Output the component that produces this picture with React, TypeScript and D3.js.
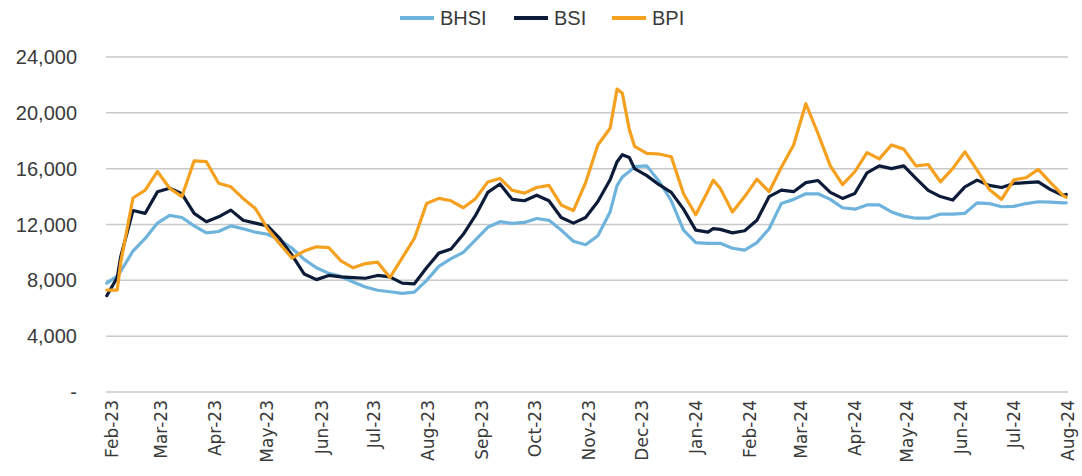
import React from "react";
import * as d3 from "d3";

const dates: string[] = [
  "2023-01-29","2023-02-04","2023-02-06","2023-02-13","2023-02-20","2023-02-27","2023-03-06","2023-03-13","2023-03-20","2023-03-27",
  "2023-04-03","2023-04-10","2023-04-17","2023-04-24","2023-05-01","2023-05-08","2023-05-15","2023-05-22","2023-05-29","2023-06-05",
  "2023-06-12","2023-06-19","2023-06-26","2023-07-03","2023-07-10","2023-07-17","2023-07-24","2023-07-31","2023-08-07","2023-08-14",
  "2023-08-21","2023-08-28","2023-09-04","2023-09-11","2023-09-18","2023-09-25","2023-10-02","2023-10-09","2023-10-16","2023-10-23",
  "2023-10-30","2023-11-06","2023-11-13","2023-11-17","2023-11-20","2023-11-24","2023-11-27","2023-12-04","2023-12-11","2023-12-18",
  "2023-12-25","2024-01-01","2024-01-08","2024-01-11","2024-01-15","2024-01-22","2024-01-29","2024-02-05","2024-02-12","2024-02-19",
  "2024-02-26","2024-03-04","2024-03-11","2024-03-18","2024-03-25","2024-04-01","2024-04-08","2024-04-15","2024-04-22","2024-04-29",
  "2024-05-06","2024-05-13","2024-05-20","2024-05-27","2024-06-03","2024-06-10","2024-06-17","2024-06-24","2024-07-01","2024-07-08",
  "2024-07-15","2024-07-22","2024-07-29","2024-07-31",
];

const bhsi: number[] = [
  7800, 8300, 8650, 10100, 11000, 12100, 12650, 12500, 11900, 11400,
  11500, 11900, 11700, 11450, 11300, 10900, 10300, 9500, 8900, 8500,
  8280, 7880, 7520, 7290, 7180, 7070, 7150, 8000, 9000, 9550,
  10000, 10900, 11800, 12200, 12080, 12150, 12430, 12300, 11600, 10800,
  10550, 11200, 12900, 14800, 15400, 15800, 16150, 16200, 15100, 13700,
  11600, 10700, 10650, 10650, 10650, 10300, 10170, 10700, 11700, 13510,
  13800, 14200, 14200, 13800, 13200, 13100, 13400, 13400, 12900, 12600,
  12450, 12450, 12750, 12750, 12800, 13550, 13500, 13270, 13300, 13500,
  13630, 13600, 13550, 13550,
];

const bsi: number[] = [
  6900, 8200, 9700, 13000, 12800, 14340, 14600, 14200, 12800, 12200,
  12550, 13030, 12300, 12100, 11900, 11000, 9800, 8450, 8050, 8350,
  8250, 8200, 8150, 8350, 8250, 7800, 7750, 8900, 9950, 10250,
  11300, 12650, 14300, 14900, 13800, 13700, 14100, 13700, 12500, 12100,
  12500, 13650, 15200, 16500, 17000, 16800, 16000, 15500, 14850, 14300,
  13100, 11600, 11450, 11700, 11650, 11400, 11550, 12300, 14000, 14460,
  14350, 15000, 15150, 14300, 13870, 14220, 15700, 16200, 16000, 16200,
  15300, 14450, 14000, 13750, 14700, 15180, 14800, 14650, 14940, 15000,
  15060, 14500, 14100, 14150,
];

const bpi: number[] = [
  7300, 7300, 9300, 13900, 14460, 15800, 14600, 14000, 16560, 16500,
  14960, 14700, 13870, 13150, 11700, 10600, 9600, 10100, 10400, 10350,
  9400, 8900, 9200, 9300, 8200, 9600, 11000, 13500, 13870, 13700,
  13200, 13850, 15050, 15300, 14450, 14250, 14650, 14800, 13400, 13000,
  15000, 17700, 18900, 21700, 21400, 18800, 17600, 17100, 17050, 16850,
  14200, 12700, 14400, 15180, 14600, 12900, 14000, 15250, 14350, 16100,
  17700, 20650, 18500, 16200, 14850, 15780, 17150, 16700, 17700, 17400,
  16200, 16300, 15050, 16000, 17200, 15900, 14500, 13800, 15200, 15350,
  15950, 15000, 14100, 13950,
];

const seriesNames: string[] = ["BHSI", "BSI", "BPI"];
const seriesColors: string[] = ["#6db3dc", "#0c1c38", "#f5a01e"];
const yTicks: number[] = [0, 4000, 8000, 12000, 16000, 20000, 24000];
const xTickLabels: string[] = [
  "Feb-23","Mar-23","Apr-23","May-23","Jun-23","Jul-23","Aug-23","Sep-23","Oct-23","Nov-23",
  "Dec-23","Jan-24","Feb-24","Mar-24","Apr-24","May-24","Jun-24","Jul-24","Aug-24",
];

export default function App() {
  const W = 1082, H = 476;
  const parse = d3.timeParse("%Y-%m-%d");
  const x = d3.scaleTime()
    .domain([new Date(2023, 1, 1), new Date(2024, 7, 1)])
    .range([112, 1068]);
  const y = d3.scaleLinear().domain([0, 24000]).range([392, 57]);
  const xs = dates.map((d) => parse(d) as Date);
  const allSeries = [bhsi, bsi, bpi];
  const line = d3.line<number>()
    .x((_, i) => x(xs[i]))
    .y((v) => y(v))
    .curve(d3.curveLinear);
  const fmt = d3.format(",");
  const tickDates = xTickLabels.map((_, i) => new Date(2023, 1 + i, 1));
  const legendX = [400, 514, 612];

  return (
    <svg width={W} height={H} style={{ position: "absolute", left: 0, top: 0, background: "#fff" }}>
      {yTicks.map((t) => (
        <g key={t}>
          <line x1={106} x2={1068} y1={y(t)} y2={y(t)} stroke="#c9c9c9" strokeWidth={1.5} />
          <text x={77} y={y(t)} dy="0.35em" textAnchor="end" fontFamily="Liberation Sans, Arial, sans-serif" fontSize={20} fill="#3a3a3a">
            {t === 0 ? "-" : fmt(t)}
          </text>
        </g>
      ))}
      {tickDates.map((d, i) => (
        <text key={i} transform={`translate(${x(d)},400) rotate(-90)`} textAnchor="end" dy="0.35em"
          fontFamily="DejaVu Sans, sans-serif" fontSize={17} fill="#3a3a3a">
          {xTickLabels[i]}
        </text>
      ))}
      {allSeries.map((s, i) => (
        <path key={i} d={line(s) || ""} fill="none" stroke={seriesColors[i]} strokeWidth={3.2} strokeLinejoin="round" strokeLinecap="round" />
      ))}
      {seriesNames.map((n, i) => (
        <g key={n}>
          <line x1={legendX[i]} x2={legendX[i] + 34} y1={18} y2={18} stroke={seriesColors[i]} strokeWidth={4} />
          <text x={legendX[i] + 40} y={18} dy="0.35em" fontFamily="Liberation Sans, Arial, sans-serif" fontSize={20} fill="#3a3a3a">
            {n}
          </text>
        </g>
      ))}
    </svg>
  );
}
